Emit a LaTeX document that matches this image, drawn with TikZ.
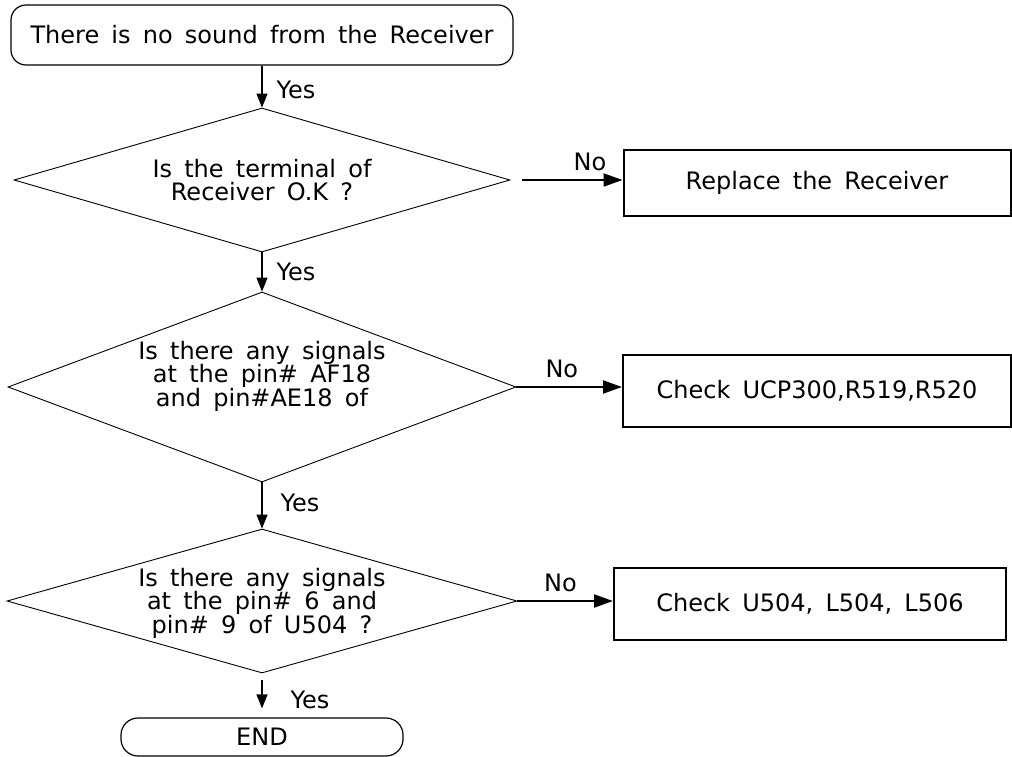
\documentclass[tikz,border=0pt]{standalone}
\usepackage{fontspec}
\setmainfont[WordSpace=1.6]{DejaVu Sans}
\usetikzlibrary{arrows.meta, positioning, shapes.geometric}

\begin{document}
\begin{tikzpicture}[
        x=1pt, y=-1pt,
        font=\fontsize{24}{23.5}\selectfont,
        terminal/.style={rectangle, rounded corners=15pt, draw, line width=1.2pt, inner sep=0pt},
        decision/.style={diamond, draw, line width=0.9pt, inner sep=0pt},
        qtext/.style={align=center, inner sep=0pt},
        action/.style={rectangle, draw, line width=2pt, inner sep=0pt},
        lbl/.style={inner sep=2pt},
        arrow/.style={-{Triangle[length=14pt, width=11pt]}, line width=1.3pt},
        noarrow/.style={-{Triangle[length=19pt, width=13pt]}, line width=2pt},
    ]
    \useasboundingbox (0,0) rectangle (1012,757);

    % main column
    \node[terminal, minimum width=502pt, minimum height=60pt] (start) at (262,35) {There is no sound from the Receiver};
    \node[decision, minimum width=496pt, minimum height=144pt] (q1) at (262,180) {};
    \node[qtext] (q1t) at (q1) {Is the terminal of\\Receiver O.K ?};
    \node[decision, minimum width=508pt, minimum height=190pt] (q2) at (262,387) {};
    \node[qtext] (q2t) at ([yshift=11pt]q2) {Is there any signals\\at the pin\# AF18\\and pin\#AE18 of};
    \node[decision, minimum width=510pt, minimum height=144pt] (q3) at (262,601) {};
    \node[qtext] (q3t) at ([yshift=-2pt]q3) {Is there any signals\\at the pin\# 6 and\\pin\# 9 of U504 ?};
    \node[terminal, rounded corners=17pt, minimum width=282pt, minimum height=38pt] (end) at (262,737) {END};

    % repair boxes
    \node[action, minimum width=387pt, minimum height=65pt] (r1) at (817,183) {Replace the Receiver};
    \node[action, minimum width=388pt, minimum height=72pt] (r2) at (817,391) {Check UCP300,R519,R520};
    \node[action, minimum width=392pt, minimum height=72pt] (r3) at (810,604) {Check U504, L504, L506};

    % yes branch
    \draw[arrow] (start) -- node[lbl, pos=0.58, right=12pt] (y1) {Yes} (q1);
    \draw[arrow] (q1) -- node[lbl, pos=0.5, right=12pt] (y2) {Yes} (q2);
    \draw[arrow] (q2) -- node[lbl, pos=0.45, right=16pt] (y3) {Yes} (q3);
    \draw[arrow, shorten <=7pt, shorten >=9pt] (q3) -- node[lbl, pos=0.6, right=26pt] (y4) {Yes} (end);

    % no branch
    \draw[noarrow, shorten <=12pt] (q1.east) -- node[lbl, pos=0.71, above=6pt] (n1) {No} (q1.east -| r1.west);
    \draw[noarrow] (q2.east) -- node[lbl, pos=0.43, above=6pt] (n2) {No} (q2.east -| r2.west);
    \draw[noarrow] (q3.east) -- node[lbl, pos=0.45, above=6pt] (n3) {No} (q3.east -| r3.west);
\end{tikzpicture}
\end{document}
